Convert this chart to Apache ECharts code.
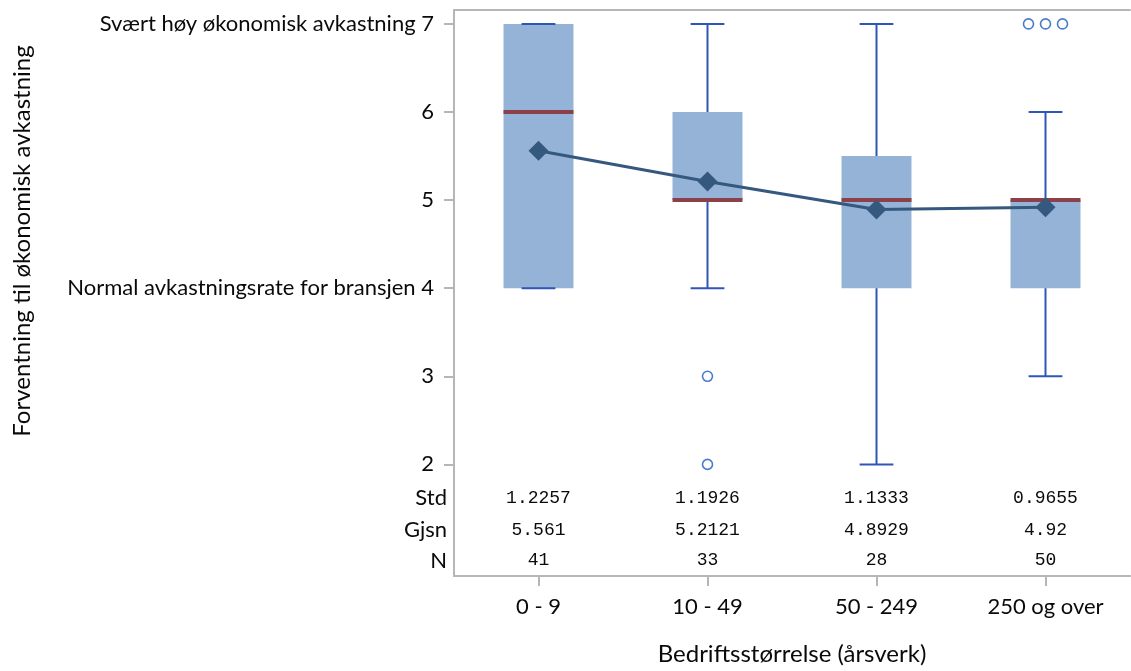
<!DOCTYPE html>
<html>
<head>
<meta charset="utf-8">
<script src="https://cdn.jsdelivr.net/npm/echarts@6/dist/echarts.min.js"></script>
<style>
  html, body { margin: 0; padding: 0; background: #ffffff; }
  #chart { width: 1131px; height: 671px; }
</style>
</head>
<body>
<div id="chart"></div>
<script>
// Company size groups
const categories = ['0 - 9', '10 - 49', '50 - 249', '250 og over'];

// Five-number summaries per group: [min, Q1, median, Q3, max]
const boxStats = [
  [4, 4, 6, 7, 7],
  [4, 5, 5, 6, 7],
  [2, 4, 5, 5.5, 7],
  [3, 4, 5, 5, 6]
];

// Outlying answers per group
const outliers = [
  [],
  [3, 2],
  [],
  [7, 7, 7]
];

// Summary table rows
const stdDev = [1.2257, 1.1926, 1.1333, 0.9655];
const means = [5.561, 5.2121, 4.8929, 4.92];
const counts = [41, 33, 28, 50];

// Y tick values and their labels
const yTicks = [2, 3, 4, 5, 6, 7];
const yTickText = {
  7: 'Svært høy økonomisk avkastning 7',
  4: 'Normal avkastningsrate for bransjen 4'
};

// Vertical placement of the summary table rows inside the plot frame
const Y_MIN = 0.733, Y_MAX = 7.158;
const tableRows = [
  { label: 'Std', pos: 1.615, values: stdDev },
  { label: 'Gjsn', pos: 1.253, values: means },
  { label: 'N', pos: 0.908, values: counts }
];

const LABEL_FONT = 'Lato, "Open Sans", sans-serif';
const AXIS_GREY = '#b4b6b8';
const TEXT = '#0a0a0a';

const boxData = boxStats.map((s, i) => [i].concat(s));

const outlierData = [];
outliers.forEach((vals, i) => {
  const seen = {};
  vals.forEach(v => { seen[v] = (seen[v] || 0) + 1; });
  const used = {};
  vals.forEach(v => {
    const k = used[v] || 0;
    used[v] = k + 1;
    outlierData.push([i, v, k, seen[v]]);
  });
});

const tableData = [];
tableRows.forEach(row => {
  row.values.forEach((v, i) => tableData.push([i, row.pos, String(v)]));
});

// tick labels sit further from the axis than the table row labels
const labelMap = {};
yTicks.forEach(t => { labelMap[t] = '{tk|' + (yTickText[t] || String(t)) + '}'; });
tableRows.forEach(r => { labelMap[r.pos] = '{row|' + r.label + '}'; });

const chart = echarts.init(document.getElementById('chart'), null, { renderer: 'canvas' });

chart.setOption({
  animation: false,
  backgroundColor: '#ffffff',
  grid: { left: 454, right: 1, top: 10, bottom: 93 },
  xAxis: [{
    type: 'category',
    data: categories,
    boundaryGap: true,
    position: 'bottom',
    axisLine: { show: true, lineStyle: { color: AXIS_GREY, width: 2 } },
    axisTick: { show: true, alignWithLabel: true, length: 10, lineStyle: { color: AXIS_GREY, width: 2 } },
    axisLabel: { margin: 20, fontFamily: LABEL_FONT, fontSize: 22, color: TEXT },
    splitLine: { show: false },
    name: 'Bedriftsstørrelse (årsverk)',
    nameLocation: 'middle',
    nameGap: 66,
    nameTextStyle: { fontFamily: LABEL_FONT, fontSize: 24, color: TEXT }
  }, {
    type: 'category',
    data: categories,
    position: 'top',
    axisLine: { show: true, lineStyle: { color: AXIS_GREY, width: 2 } },
    axisTick: { show: false },
    axisLabel: { show: false },
    splitLine: { show: false }
  }],
  yAxis: {
    type: 'value',
    min: Y_MIN,
    max: Y_MAX,
    axisLine: { show: true, lineStyle: { color: AXIS_GREY, width: 2 } },
    axisTick: { show: true, length: 10, customValues: yTicks, lineStyle: { color: AXIS_GREY, width: 2 } },
    axisLabel: {
      margin: 7,
      customValues: yTicks.concat(tableRows.map(r => r.pos)),
      formatter: v => labelMap[v] !== undefined ? labelMap[v] : '',
      fontFamily: LABEL_FONT,
      fontSize: 22,
      color: TEXT,
      rich: {
        tk: { fontFamily: LABEL_FONT, fontSize: 22, color: TEXT, padding: [0, 13, 0, 0] },
        row: { fontFamily: LABEL_FONT, fontSize: 22, color: TEXT }
      }
    },
    splitLine: { show: false }
  },
  graphic: [{
    type: 'text',
    x: 22,
    y: 241,
    rotation: Math.PI / 2,
    style: {
      text: 'Forventning til økonomisk avkastning',
      font: '24px ' + LABEL_FONT,
      fill: TEXT,
      align: 'center',
      verticalAlign: 'middle'
    }
  }],
  series: [{
    // boxes, medians and whiskers
    type: 'custom',
    data: boxData,
    encode: { x: 0, y: [1, 2, 3, 4, 5] },
    z: 2,
    renderItem: (params, api) => {
      const i = api.value(0);
      const band = api.size([1, 0])[0];
      const cx = api.coord([i, 0])[0];
      const y = v => api.coord([i, v])[1];
      const mn = api.value(1), q1 = api.value(2), md = api.value(3), q3 = api.value(4), mx = api.value(5);
      const bw = band * 0.414, cw = band * 0.2;
      const whisker = { stroke: '#2f56b6', lineWidth: 2 };
      return {
        type: 'group',
        children: [
          { type: 'rect', shape: { x: cx - bw / 2, y: y(q3), width: bw, height: y(q1) - y(q3) },
            style: { fill: '#95b3d7' } },
          { type: 'line', shape: { x1: cx, y1: y(q3), x2: cx, y2: y(mx) }, style: whisker },
          { type: 'line', shape: { x1: cx, y1: y(q1), x2: cx, y2: y(mn) }, style: whisker },
          { type: 'line', shape: { x1: cx - cw / 2, y1: y(mx), x2: cx + cw / 2, y2: y(mx) }, style: whisker },
          { type: 'line', shape: { x1: cx - cw / 2, y1: y(mn), x2: cx + cw / 2, y2: y(mn) }, style: whisker },
          { type: 'line', shape: { x1: cx - bw / 2, y1: y(md), x2: cx + bw / 2, y2: y(md) },
            style: { stroke: '#8c4049', lineWidth: 4 } }
        ]
      };
    }
  }, {
    // outliers, repeated values spread side by side
    type: 'custom',
    data: outlierData,
    encode: { x: 0, y: 1 },
    z: 3,
    renderItem: (params, api) => {
      const p = api.coord([api.value(0), api.value(1)]);
      const k = api.value(2), n = api.value(3);
      const dx = (k - (n - 1) / 2) * 17;
      return {
        type: 'circle',
        shape: { cx: p[0] + dx, cy: p[1], r: 5 },
        style: { fill: '#ffffff', stroke: '#4a7ccb', lineWidth: 1.6 }
      };
    }
  }, {
    // group means
    type: 'line',
    data: means,
    z: 4,
    symbol: 'diamond',
    symbolSize: 20,
    lineStyle: { color: '#35587f', width: 3 },
    itemStyle: { color: '#35587f' }
  }, {
    // summary table
    type: 'custom',
    data: tableData,
    encode: { x: 0, y: 1 },
    z: 5,
    renderItem: (params, api) => {
      const p = api.coord([api.value(0), api.value(1)]);
      return {
        type: 'text',
        x: p[0],
        y: p[1],
        style: {
          text: tableData[params.dataIndex][2],
          font: '18px "Liberation Mono", "DejaVu Sans Mono", monospace',
          fill: TEXT,
          align: 'center',
          verticalAlign: 'middle'
        }
      };
    }
  }]
});
</script>
</body>
</html>
